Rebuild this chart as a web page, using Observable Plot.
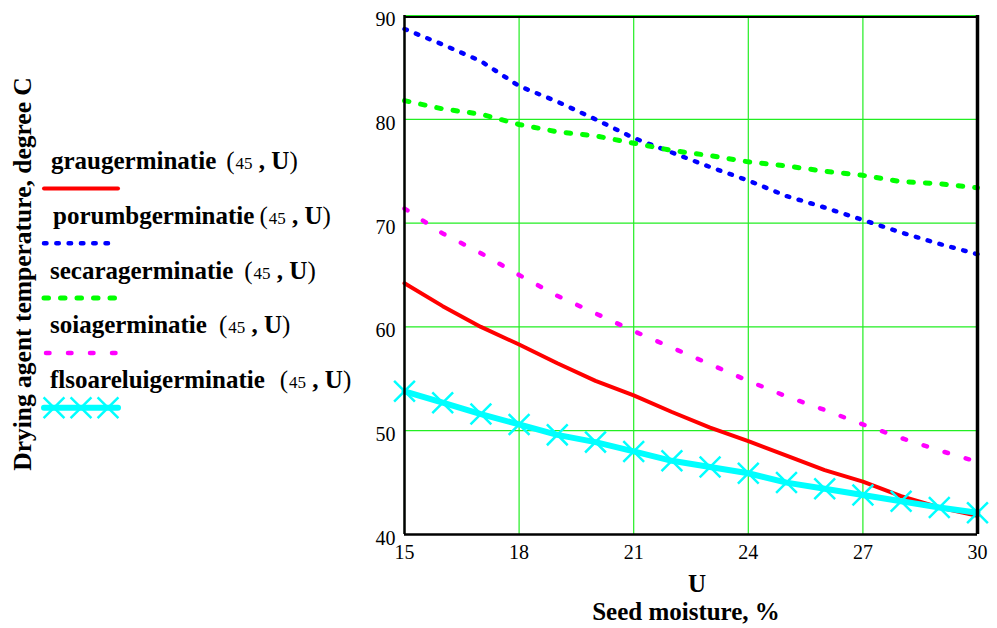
<!DOCTYPE html>
<html>
<head>
<meta charset="utf-8">
<script src="https://cdn.jsdelivr.net/npm/d3@7"></script>
<script src="https://cdn.jsdelivr.net/npm/@observablehq/plot@0.6"></script>
<style>
  html, body { margin: 0; padding: 0; background: #fff; }
  #wrap { position: relative; width: 997px; height: 628px; overflow: hidden; }
  #wrap > svg { position: absolute; left: 0; top: 0; }
</style>
</head>
<body>
<div id="wrap"></div>
<script>
// Seed moisture U, %
const moisture = [15, 16, 17, 18, 19, 20, 21, 22, 23, 24, 25, 26, 27, 28, 29, 30];

// Drying agent temperature (degree C) at 45 for each crop, by seed moisture
const grau     = [64.2, 62.0, 60.0, 58.3, 56.5, 54.8, 53.4, 51.8, 50.3, 49.0, 47.6, 46.2, 45.1, 43.7, 42.6, 41.8];
const porumb   = [88.7, 87.2, 85.6, 83.2, 81.7, 80.0, 78.2, 76.8, 75.4, 74.1, 72.6, 71.5, 70.3, 69.1, 68.0, 67.0];
const secara   = [81.8, 81.0, 80.5, 79.5, 78.8, 78.4, 77.7, 77.0, 76.5, 75.9, 75.5, 75.0, 74.6, 74.0, 73.8, 73.4];
const soia     = [71.4, 69.0, 67.1, 65.0, 63.0, 61.3, 59.6, 58.0, 56.4, 54.8, 53.3, 52.0, 50.6, 49.3, 48.1, 47.0];
const floarea  = [53.8, 52.7, 51.6, 50.6, 49.6, 48.9, 48.0, 47.1, 46.5, 45.9, 45.0, 44.4, 43.8, 43.2, 42.6, 42.1];

// Axis ticks
const xTicks = [15, 18, 21, 24, 27, 30];
const yTicks = [40, 50, 60, 70, 80, 90];

// Legend names
const seriesNames = ["graugerminatie", "porumbgerminatie", "secaragerminatie", "soiagerminatie", "flsoareluigerminatie"];
const seriesArg = "45";
const seriesVar = "U";

// Axis titles
const yTitle = "Drying agent temperature, degree C";
const xVar = "U";
const xTitle = "Seed moisture, %";

const rows = (vals) => moisture.map((u, i) => ({u, t: vals[i]}));

// Line styles for each series
const styles = [
  {stroke: "#ff0000", strokeWidth: 4, strokeLinecap: "round"},
  {stroke: "#0000ff", strokeWidth: 4.5, strokeDasharray: "2.5 9.8", strokeLinecap: "round"},
  {stroke: "#00ff00", strokeWidth: 5, strokeDasharray: "4.5 12", strokeLinecap: "round"},
  {stroke: "#ff00ff", strokeWidth: 4.5, strokeDasharray: "3.5 18.5", strokeLinecap: "round"},
  {stroke: "#00ffff", strokeWidth: 6, strokeLinecap: "round"}
];
const seriesData = [grau, porumb, secara, soia, floarea];

const chart = Plot.plot({
  width: 997,
  height: 628,
  marginLeft: 404,
  marginRight: 20,
  marginTop: 15,
  marginBottom: 94,
  style: {fontFamily: "'Liberation Serif', 'Times New Roman', serif", fontSize: "20px", color: "#000", background: "transparent", overflow: "visible"},
  x: {domain: [15, 30]},
  y: {domain: [40, 90]},
  marks: [
    Plot.gridX(xTicks, {stroke: "#22ee22", strokeOpacity: 1, strokeWidth: 1.2}),
    Plot.gridY(yTicks, {stroke: "#22ee22", strokeOpacity: 1, strokeWidth: 1.2}),
    Plot.ruleY([90], {stroke: "#000", strokeWidth: 2, dy: 1.5}),
    ...seriesData.map((vals, i) => Plot.line(rows(vals), {x: "u", y: "t", ...styles[i]})),
    Plot.dot(rows(floarea), {x: "u", y: "t", symbol: "times", r: 9.5, stroke: "#00ffff", strokeWidth: 2.5}),
    Plot.ruleX([15], {stroke: "#000", strokeWidth: 2.5}),
    Plot.ruleX([30], {stroke: "#000", strokeWidth: 3.5}),
    Plot.ruleY([40], {stroke: "#000", strokeWidth: 2.5}),
    Plot.axisX(xTicks, {tickSize: 0, tickPadding: 10, label: null}),
    Plot.axisY(yTicks, {tickSize: 0, tickPadding: 9, label: null, dy: 4})
  ]
});

const wrap = document.getElementById("wrap");
wrap.appendChild(chart);

// Legend and axis titles
const svg = d3.select(wrap).append("svg")
  .attr("width", 997).attr("height", 628)
  .style("font-family", "'Liberation Serif', 'Times New Roman', serif")
  .style("pointer-events", "none");

const legendX = [51, 53, 50, 50, 50];
const parenGap = [10, 5, 11, 12, 15];
const baseY = 169;
const step = 54.8;

seriesNames.forEach((name, i) => {
  const y = baseY + i * step;
  const t = svg.append("text").attr("x", legendX[i]).attr("y", y).attr("fill", "#000");
  t.append("tspan").attr("font-weight", "bold").attr("font-size", 25).text(name);
  t.append("tspan").attr("dx", parenGap[i]).attr("font-size", 25).text("(");
  t.append("tspan").attr("font-size", 17).attr("dx", 1).text(seriesArg);
  t.append("tspan").attr("font-size", 25).attr("font-weight", "bold").attr("xml:space", "preserve").text(" , " + seriesVar);
  t.append("tspan").attr("font-size", 25).text(")");

  const ly = y + 19.5;
  const s = styles[i];
  const x1 = 44, x2 = i === 1 ? 110 : 118;
  const off = i === 3 ? 2 : 0;
  svg.append("line")
    .attr("x1", x1 + off).attr("x2", x2).attr("y1", ly).attr("y2", ly)
    .attr("stroke", s.stroke).attr("stroke-width", s.strokeWidth)
    .attr("stroke-dasharray", s.strokeDasharray || null)
    .attr("stroke-linecap", "round");
  if (i === 4) {
    const sym = d3.symbol(d3.symbolTimes, Math.PI * 9.5 * 9.5);
    [54, 81, 108].forEach(cx => {
      svg.append("path").attr("d", sym()).attr("transform", `translate(${cx},${ly})`)
        .attr("fill", "none").attr("stroke", s.stroke).attr("stroke-width", 2.5);
    });
  }
});

svg.append("text")
  .attr("transform", "translate(31,274) rotate(-90)")
  .attr("text-anchor", "middle").attr("font-weight", "bold").attr("font-size", 25.5)
  .text(yTitle);

svg.append("text").attr("x", 697).attr("y", 592)
  .attr("text-anchor", "middle").attr("font-weight", "bold").attr("font-size", 25)
  .text(xVar);
svg.append("text").attr("x", 686).attr("y", 620)
  .attr("text-anchor", "middle").attr("font-weight", "bold").attr("font-size", 25)
  .text(xTitle);
</script>
</body>
</html>
